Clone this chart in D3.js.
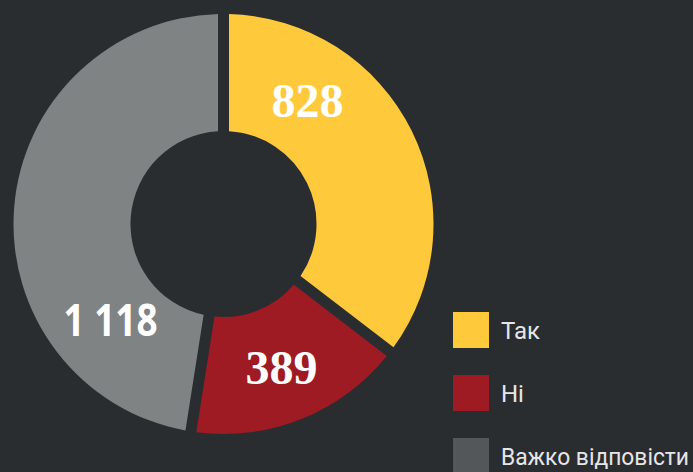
<!DOCTYPE html>
<html><head><meta charset="utf-8">
<script src="https://cdn.jsdelivr.net/npm/d3@7"></script>
<style>html,body{margin:0;padding:0;background:#2a2d30;}svg{display:block;}</style>
</head><body>
<svg id="c" width="693" height="472"></svg>
<script>
const categories = ["Так", "Ні", "Важко відповісти"];
const values = [828, 389, 1118];
const labels = ["828", "389", "1 118"];
const sliceColors = ["#ffc93c", "#9e1b24", "#7f8384"];
const legendColors = ["#ffc93c", "#9e1b24", "#53575a"];

const svg = d3.select("#c");
svg.append("rect").attr("width", 693).attr("height", 472).attr("fill", "#2a2d30");

const cx = 223.5, cy = 224, R = 210, r0 = 93;
const pie = d3.pie().sort(null).padAngle(11 / R);
const arcs = pie(values);
const arc = d3.arc().innerRadius(r0).outerRadius(R).padRadius(R);
const g = svg.append("g").attr("transform", `translate(${cx},${cy})`);
g.selectAll("path").data(arcs).join("path")
  .attr("d", arc).attr("fill", (d, i) => sliceColors[i]);

const labelPos = [[84, -124], [58, 143], [-113, 95]];
const labelFonts = [
  {f: "Liberation Serif, serif", s: 48, w: null},
  {f: "Liberation Serif, serif", s: 48, w: null},
  {f: "Open Sans, sans-serif", s: 44, w: 94}
];
g.selectAll("text.lbl").data(arcs).join("text").attr("class", "lbl")
  .attr("x", (d, i) => labelPos[i][0]).attr("y", (d, i) => labelPos[i][1])
  .attr("text-anchor", "middle").attr("dominant-baseline", "central")
  .style("font-family", (d, i) => labelFonts[i].f)
  .style("font-size", (d, i) => labelFonts[i].s + "px")
  .style("font-weight", "bold").attr("fill", "#ffffff")
  .each(function(d, i) {
    if (labelFonts[i].w) d3.select(this).attr("textLength", labelFonts[i].w).attr("lengthAdjust", "spacingAndGlyphs");
  })
  .text((d, i) => labels[i]);

const y = d3.scaleBand().domain(categories).range([312, 501]);
const lg = svg.append("g");
categories.forEach((c, i) => {
  lg.append("rect").attr("x", 453).attr("y", y(c)).attr("width", 36).attr("height", 36)
    .attr("fill", legendColors[i]);
  const t = lg.append("text").attr("x", 501).attr("y", y(c) + 27)
    .style("font-family", "Roboto, sans-serif").style("font-size", "24px")
    .attr("fill", "#e6e6e6").text(c);
  const w = t.node().getComputedTextLength();
  if (501 + w > 690) t.attr("textLength", 188).attr("lengthAdjust", "spacingAndGlyphs");
});
</script>
</body></html>
